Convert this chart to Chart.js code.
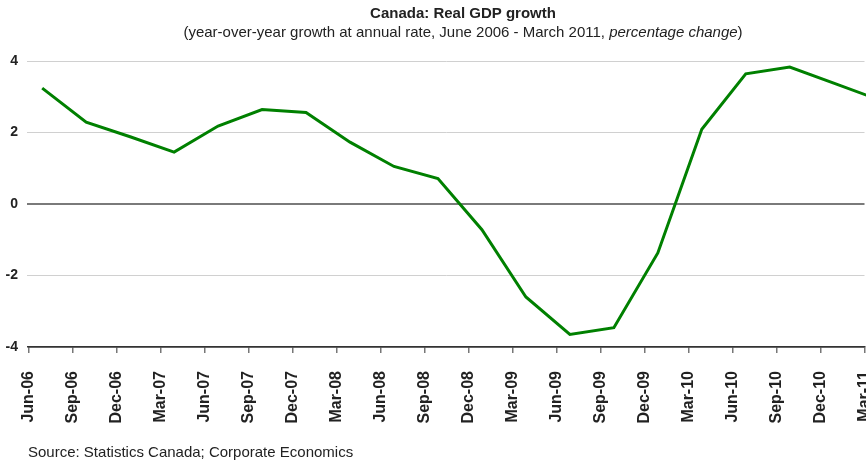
<!DOCTYPE html>
<html>
<head>
<meta charset="utf-8">
<title>Canada: Real GDP growth</title>
<script src="https://cdn.jsdelivr.net/npm/chart.js@4.4.1/dist/chart.umd.min.js"></script>
<style>
  html, body { margin: 0; padding: 0; background: #fff; }
  #wrap { position: relative; width: 866px; height: 462px; }
</style>
</head>
<body>
<div id="wrap"><canvas id="gdpChart" width="866" height="462"></canvas></div>
<script>
// quarterly y/y real GDP growth, %
const quarters = [
  "Jun-06", "Sep-06", "Dec-06", "Mar-07", "Jun-07", "Sep-07", "Dec-07",
  "Mar-08", "Jun-08", "Sep-08", "Dec-08", "Mar-09", "Jun-09", "Sep-09",
  "Dec-09", "Mar-10", "Jun-10", "Sep-10", "Dec-10", "Mar-11",
];
const gdpGrowth = [
  3.24, 2.29, 1.88, 1.45, 2.18, 2.64, 2.56, 1.73, 1.05, 0.71,
  -0.72, -2.6, -3.65, -3.46, -1.37, 2.09, 3.64, 3.83, 3.38, 2.93,
];
const yTicks = [-4, -2, 0, 2, 4];

const FONT = "'Liberation Sans', Arial, sans-serif";
const TEXT = "#222";
// observations sit a little after each quarter's tick mark
const POINT_SHIFT = 0.3;

// title, subtitle and source line drawn straight on the canvas
const headerText = {
  id: "headerText",
  afterDraw(chart) {
    const ctx = chart.ctx;
    const cx = 463;
    ctx.save();
    ctx.fillStyle = TEXT;
    ctx.textBaseline = "alphabetic";

    ctx.font = `bold 15px ${FONT}`;
    ctx.textAlign = "center";
    ctx.fillText("Canada: Real GDP growth", cx, 18);

    const parts = [
      { t: "(year-over-year growth at annual rate, June 2006 - March 2011, ", f: `15px ${FONT}` },
      { t: "percentage change", f: `italic 15px ${FONT}` },
      { t: ")", f: `15px ${FONT}` },
    ];
    let total = 0;
    parts.forEach((p) => { ctx.font = p.f; p.w = ctx.measureText(p.t).width; total += p.w; });
    let x = cx - total / 2;
    ctx.textAlign = "left";
    parts.forEach((p) => { ctx.font = p.f; ctx.fillText(p.t, x, 37); x += p.w; });

    ctx.font = `15px ${FONT}`;
    ctx.fillText("Source: Statistics Canada; Corporate Economics", 28, 457);
    ctx.restore();
  },
};

const ctx = document.getElementById("gdpChart").getContext("2d");
new Chart(ctx, {
  type: "line",
  data: {
    datasets: [
      {
        label: "Real GDP growth",
        data: gdpGrowth.map((v, i) => ({ x: i + POINT_SHIFT, y: v })),
        borderColor: "#008000",
        borderWidth: 3,
        pointRadius: 0,
        tension: 0,
        fill: false,
        clip: 8,
      },
    ],
  },
  options: {
    responsive: false,
    animation: false,
    layout: { padding: { top: 61, right: 1.5, bottom: 0, left: 0 } },
    plugins: {
      legend: { display: false },
      tooltip: { enabled: false },
    },
    scales: {
      x: {
        type: "linear",
        min: 0,
        max: quarters.length - 1,
        afterFit: (s) => {
          s.height = 115;
          // let the last rotated label run off the edge instead of shrinking the plot
          s.paddingLeft = 0;
          s.paddingRight = 0;
        },
        afterBuildTicks: (s) => { s.ticks = quarters.map((_, i) => ({ value: i })); },
        ticks: {
          autoSkip: false,
          minRotation: 90,
          maxRotation: 90,
          padding: 18,
          color: TEXT,
          font: { family: FONT, size: 16, weight: "bold" },
          callback: (v) => quarters[v],
        },
        grid: {
          drawOnChartArea: false,
          drawTicks: true,
          tickLength: 6,
          color: "#777",
          lineWidth: 1.5,
        },
        border: { color: "#333", width: 1.5 },
      },
      y: {
        min: yTicks[0],
        max: yTicks[yTicks.length - 1],
        afterFit: (s) => { s.width = 29; },
        afterBuildTicks: (s) => { s.ticks = yTicks.map((v) => ({ value: v })); },
        ticks: {
          padding: 9,
          color: TEXT,
          font: { family: FONT, size: 14, weight: "bold" },
        },
        grid: {
          drawTicks: true,
          tickLength: 2,
          color: (c) => (c.tick.value === 0 ? "#7a7a7a" : c.tick.value === yTicks[0] ? "#333" : "#d0d0d0"),
          lineWidth: (c) => (c.tick.value === 0 ? 2 : c.tick.value === yTicks[0] ? 1.5 : 1),
        },
        border: { display: false },
      },
    },
  },
  plugins: [headerText],
});
</script>
</body>
</html>
